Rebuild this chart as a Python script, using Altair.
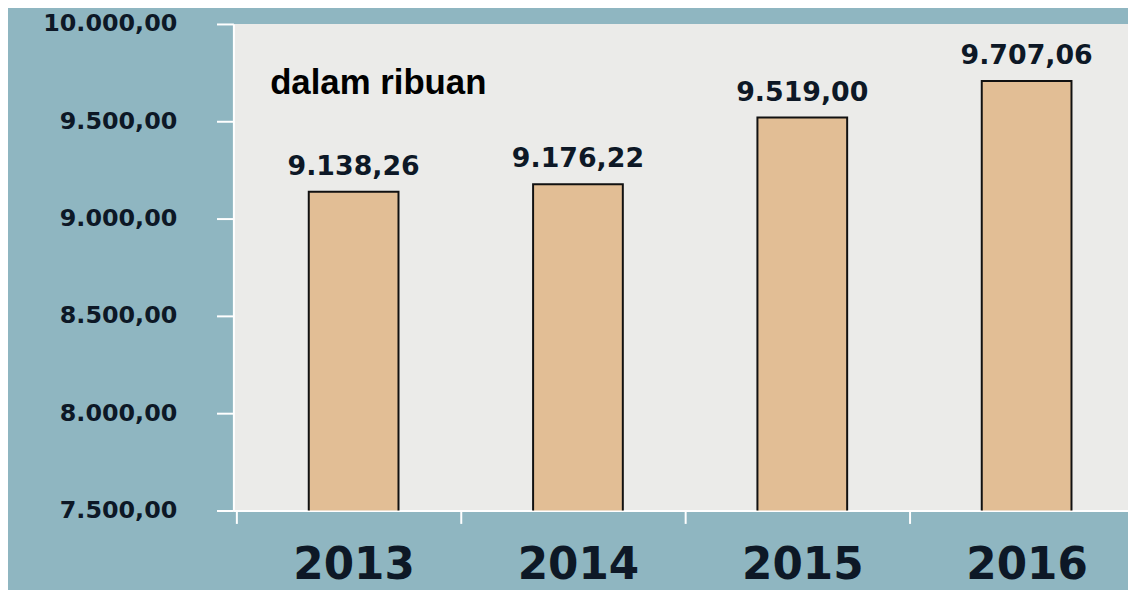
import altair as alt
import pandas as pd

years = ["2013", "2014", "2015", "2016"]
values = [9138.26, 9176.22, 9519.00, 9707.06]
y_ticks = [7500, 8000, 8500, 9000, 9500, 10000]
unit_note = "dalam ribuan"

df = pd.DataFrame({"year": years, "value": values})

BG = "#8fb6c1"
PLOT_BG = "#ebebe9"
BAR = "#e2be95"
INK = "#0d1826"

x_enc = alt.X(
    "year:N",
    sort=years,
    scale=alt.Scale(paddingInner=0.6, paddingOuter=0.336, range=[0, 920]),
    axis=alt.Axis(
        title=None,
        labelAngle=0,
        labelFont="DejaVu Sans",
        labelFontWeight="bold",
        labelFontSize=44,
        labelColor=INK,
        labelPadding=20,
        labelBaseline="top",
        tickOffset=-118,
        labelOffset=118,
        tickColor="white",
        tickSize=13,
        tickWidth=2,
        domainColor="white",
        domainWidth=2,
    ),
)
y_enc = alt.Y(
    "value:Q",
    scale=alt.Scale(domain=[7500, 10000], nice=False, zero=False),
    axis=alt.Axis(
        title=None,
        values=y_ticks,
        format=",.2f",
        grid=False,
        labelFont="DejaVu Sans",
        labelFontWeight="bold",
        labelFontSize=24,
        labelColor=INK,
        labelPadding=40,
        tickColor="white",
        tickSize=17,
        tickWidth=2,
        domainColor="white",
        domainWidth=2,
    ),
)

bars = alt.Chart(df).mark_bar(fill=BAR, stroke="#111111", strokeWidth=2, clip=True).encode(
    x=x_enc, y=y_enc
)

labels = alt.Chart(df).mark_text(
    font="DejaVu Sans",
    fontWeight="bold",
    fontSize=27,
    color=INK,
    baseline="alphabetic",
    dy=-17,
).encode(
    x=alt.X("year:N", sort=years),
    y=alt.Y("value:Q"),
    text=alt.Text("value:Q", format=",.2f"),
)

note = alt.Chart(pd.DataFrame({"t": [unit_note]})).mark_text(
    font="Liberation Sans",
    fontWeight="bold",
    fontSize=35,
    color="black",
    align="left",
    baseline="alphabetic",
).encode(x=alt.value(37), y=alt.value(71), text="t:N")

chart = (
    alt.layer(bars, labels, note)
    .properties(
        width=901,
        height=490,
        background=BG,
        padding={"left": 227, "top": 14, "right": 0, "bottom": 78},
        autosize=alt.AutoSizeParams(type="none"),
        view=alt.ViewBackground(fill=PLOT_BG, strokeWidth=0),
    )
    .configure(
        locale=alt.Locale(
            number=alt.NumberLocale(decimal=",", thousands=".", grouping=[3], currency=["", ""])
        )
    )
)

chart.save("out.html", embed_options={"renderer": "svg", "actions": False})
